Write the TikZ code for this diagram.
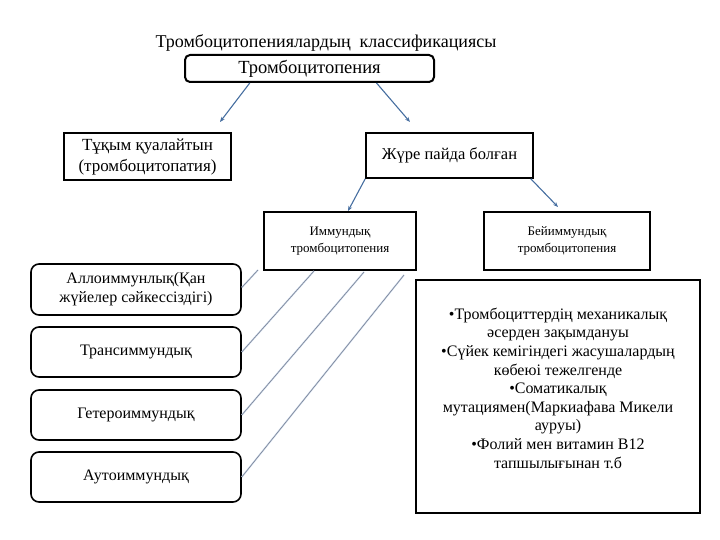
\documentclass[tikz,border=0pt]{standalone}
\usepackage{fontspec}
\setmainfont{Liberation Serif}
\usetikzlibrary{arrows.meta,calc}
\definecolor{arrowblue}{RGB}{70,110,160}
\definecolor{thinline}{RGB}{120,125,140}
\definecolor{halo}{RGB}{200,215,235}
\tikzset{
  sqbox/.style={draw=black,line width=1.6pt,align=center,inner sep=0pt},
  rbox/.style={draw=black,line width=1.6pt,rounded corners=8pt,align=center,inner sep=0pt,minimum width=210pt,minimum height=50pt,font=\fontsize{16}{19}\selectfont},
  blarrow/.style={draw=arrowblue,line width=1.1pt,-{Stealth[length=5pt,width=4pt]}},
  diag/.style={draw=thinline,line width=0.5pt,preaction={draw=halo,line width=1.6pt}},
}
\begin{document}
\begin{tikzpicture}[x=1pt,y=-1pt]
\useasboundingbox (0,0) rectangle (720,540);
\node (title) at (326,43) {\fontsize{18}{20}\selectfont Тромбоцитопениялардың\ \ классификациясы};
\node[sqbox,rounded corners=5pt,line width=2pt,minimum width=249pt,minimum height=27pt,font=\fontsize{18.5}{20}\selectfont] (top) at (309.5,68.5) {Тромбоцитопения};
\node[sqbox,minimum width=167pt,minimum height=47pt,font=\fontsize{17}{21}\selectfont] (tuk) at (147.5,156.5) {Тұқым қуалайтын\\(тромбоцитопатия)};
\node[sqbox,minimum width=167pt,minimum height=45pt,font=\fontsize{16.5}{18}\selectfont] (zhure) at (449.5,155.5) {Жүре пайда болған};
\node[sqbox,minimum width=152pt,minimum height=58pt,font=\fontsize{13}{17}\selectfont] (imm) at (340,241) {Иммундық\\тромбоцитопения};
\node[sqbox,minimum width=166pt,minimum height=58pt,font=\fontsize{13}{17}\selectfont] (beim) at (567,241) {Бейиммундық\\тромбоцитопения};
\node[rbox,minimum height=51pt] (a1) at (136,289.5) {Аллоиммунлық(Қан\\жүйелер сәйкессіздігі)};
\node[rbox] (a2) at (136,352) {Трансиммундық};
\node[rbox] (a3) at (136,415) {Гетероиммундық};
\node[rbox] (a4) at (136,477) {Аутоиммундық};
\node[sqbox,minimum width=284pt,minimum height=233pt] (big) at (558,396.5) {};
\node[align=center,font=\fontsize{16}{18.6}\selectfont] (bigtext) at (558,388) {•Тромбоциттердің механикалық\\әсерден зақымдануы\\•Сүйек кемігіндегі жасушалардың\\көбеюі тежелгенде\\•Соматикалық\\мутациямен(Маркиафава Микели\\ауруы)\\•Фолий мен витамин В12\\тапшылығынан т.б};
% arrows
\coordinate (e1) at (220,122);
\coordinate (e2) at (410,122);
\coordinate (e3) at (348,211);
\coordinate (e4) at (558,207);
\draw[blarrow] ($(top.south west)!0.262!(top.south east)$) -- (e1);
\draw[blarrow] ($(top.south west)!0.767!(top.south east)$) -- (e2);
\draw[blarrow] (zhure.south west) -- (e3);
\draw[blarrow] ($(zhure.south east)+(-3,0)$) -- (e4);
% thin diagonal lines
\coordinate (d1) at (258,270);
\coordinate (d2) at (314,271);
\coordinate (d3) at (364,272);
\coordinate (d4) at (404,275);
\draw[diag] ($(a1.east)+(0,-2)$) -- (d1);
\draw[diag] (a2.east) -- (d2);
\draw[diag] (a3.east) -- (d3);
\draw[diag] (a4.east) -- (d4);
\end{tikzpicture}
\end{document}
